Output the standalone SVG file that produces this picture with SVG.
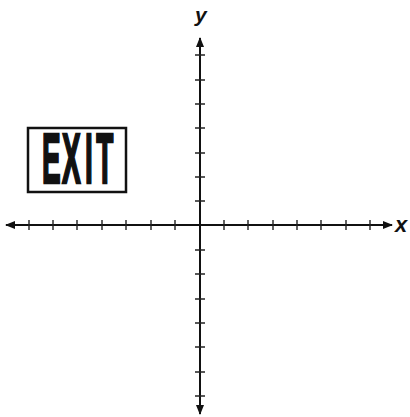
<svg xmlns="http://www.w3.org/2000/svg" width="410" height="417" viewBox="0 0 410 417">
<style>
.axis{stroke:#111;stroke-width:2;fill:none}
.tick{stroke:#222;stroke-width:1.4}
.lbl{font-family:"Liberation Sans",Arial,sans-serif;font-weight:bold;font-style:italic;fill:#111}
.exit{font-family:"Liberation Sans",Arial,sans-serif;font-weight:bold;font-size:70px;fill:#111;stroke:#111;stroke-width:2;vector-effect:non-scaling-stroke}
</style>
<defs>
<marker id="ah" viewBox="0 0 10 8" refX="9" refY="4" markerWidth="10" markerHeight="8" markerUnits="userSpaceOnUse" orient="auto">
<path d="M0,0 L10,4 L0,8 Z" fill="#111"/>
</marker>
</defs>
<rect width="410" height="417" fill="#fff"/>
<g id="connectors">
<line class="axis" x1="200" y1="225" x2="392" y2="225" marker-end="url(#ah)"/>
<line class="axis" x1="200" y1="225" x2="6" y2="225" marker-end="url(#ah)"/>
<line class="axis" x1="200" y1="225" x2="200" y2="38" marker-end="url(#ah)"/>
<line class="axis" x1="200" y1="225" x2="200" y2="414" marker-end="url(#ah)"/>
</g>
<g id="ticks">
<path class="tick" d="M29,220V230 M53,220V230 M77,220V230 M102,220V230 M126,220V230 M151,220V230 M175,220V230 M224,220V230 M248,220V230 M273,220V230 M297,220V230 M321,220V230 M346,220V230 M370,220V230"/>
<path class="tick" d="M195,55H205 M195,80H205 M195,104H205 M195,128H205 M195,153H205 M195,177H205 M195,201H205 M195,250H205 M195,274H205 M195,299H205 M195,323H205 M195,347H205 M195,372H205 M195,396H205"/>
</g>
<g id="label-y"><text class="lbl" x="195" y="22" font-size="21">y</text></g>
<g id="label-x"><text class="lbl" x="395" y="232" font-size="22">x</text></g>
<g id="exit-sign">
<rect x="28" y="128" width="98" height="64" fill="none" stroke="#111" stroke-width="2.5"/>
<text class="exit" transform="translate(42,183) scale(0.4,1)" dx="0 3 11.2 8.8">EXIT</text>
</g>
</svg>
